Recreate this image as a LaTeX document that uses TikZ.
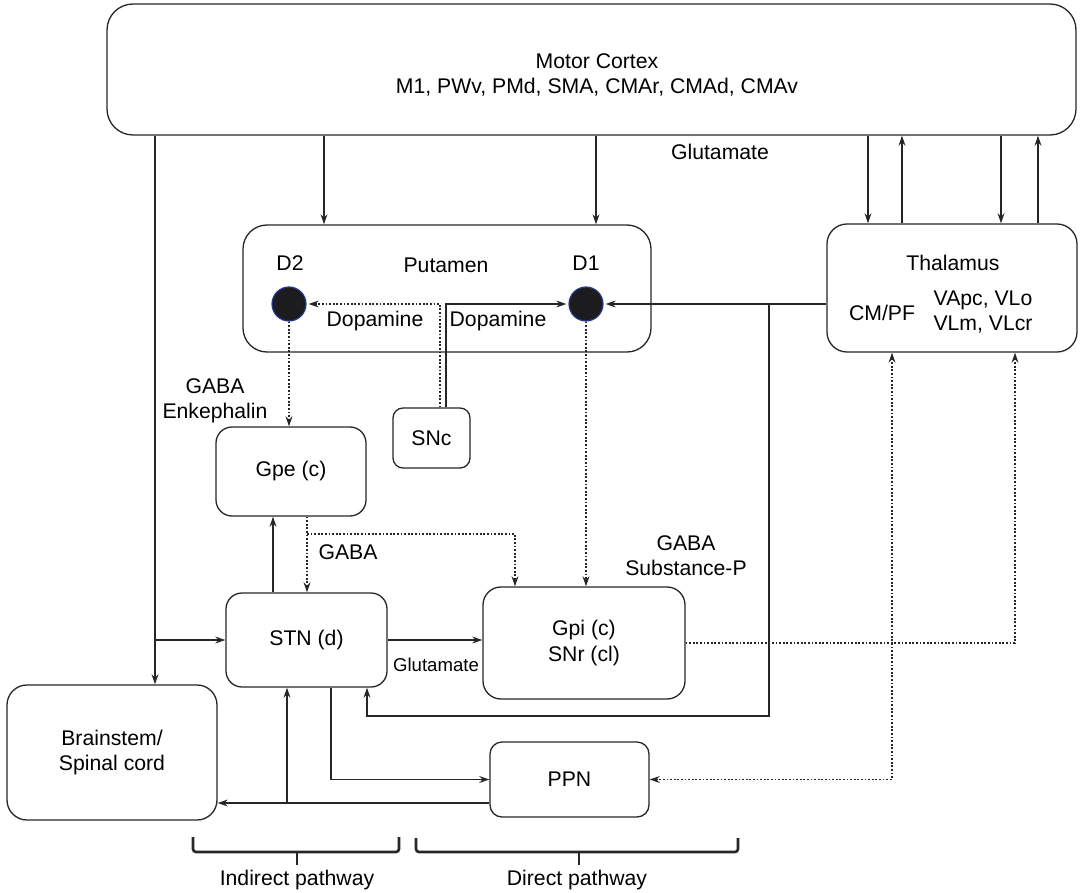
\documentclass[tikz,border=0pt]{standalone}
\usepackage{fontspec}
\setmainfont{Liberation Sans}
\usetikzlibrary{arrows.meta,fit}

\definecolor{recepfill}{rgb}{0.11,0.11,0.12}
\definecolor{recepdraw}{rgb}{0.16,0.22,0.55}

\tikzset{
  box/.style={draw, rounded corners=#1, inner sep=0pt},
  box/.default=8pt,
  lbl/.style={align=center, inner sep=0pt, font=\fontsize{10.6pt}{12.6pt}\selectfont},
  lblsmall/.style={align=center, inner sep=0pt, font=\fontsize{9.3pt}{11pt}\selectfont},
  dot/.style={dash pattern=on 0.9pt off 0.9pt},
  recep/.style={circle, fill=recepfill, draw=recepdraw, line width=0.6pt, minimum size=17pt, inner sep=0pt},
  brace/.style={line width=1.3pt, rounded corners=1.5pt}
}

\begin{document}
\begin{tikzpicture}[x=0.5pt, y=-0.5pt, line width=0.65pt, draw=black!85, >={Stealth[length=5pt,width=3.4pt]}]
\useasboundingbox (0,0) rectangle (1081,893);

% boxes
\node[box=13pt, fit={(107,4) (1076,135)}] (cortex) {};
\node[box=12pt, fit={(243,225) (651,352)}] (putamen) {};
\node[box=10pt, fit={(827,224) (1077,352)}] (thalamus) {};
\node[box=5pt, fit={(393,408) (470,468)}] (snc) {};
\node[box=8pt, fit={(216,427) (366,516)}] (gpe) {};
\node[box=8pt, fit={(226,593) (387,687)}] (stn) {};
\node[box=9pt, fit={(483,587) (685,699)}] (gpi) {};
\node[box=10pt, fit={(7,685) (217,820)}] (brain) {};
\node[box=6pt, fit={(490,742) (649,817)}] (ppn) {};
\node[recep] (d2) at (289,304) {};
\node[recep] (d1) at (586,304) {};

% texts
\node[lbl] (cortextext) at (597,75) {Motor Cortex\\M1, PWv, PMd, SMA, CMAr, CMAd, CMAv};
\node[lbl] (glutop) at (720,152) {Glutamate};
\node[lbl] (d2text) at (290,263) {D2};
\node[lbl] (puttext) at (446,265) {Putamen};
\node[lbl] (d1text) at (586,263) {D1};
\node[lbl] (dopleft) at (375,321) {Dopamine};
\node[lbl] (dopright) at (498,321) {Dopamine};
\node[lbl] (thaltext) at (953,263) {Thalamus};
\node[lbl] (cmpf) at (882,313) {CM/PF};
\node[lbl] (vltext) at (983,312) {VApc, VLo\\VLm, VLcr};
\node[lbl] (gabaenk) at (215,401) {GABA\\Enkephalin};
\node[lbl] (snctext) at (snc.center) {SNc};
\node[lbl] (gpetext) at (gpe.center) {Gpe (c)};
\node[lbl] (gabamid) at (348,552) {GABA};
\node[lbl] (gabasubp) at (686,556) {GABA\\Substance-P};
\node[lbl] (stntext) at (stn.center) {STN (d)};
\node[lblsmall] (glusmall) at (436,665) {Glutamate};
\node[lbl] (gpitext) at (gpi.center) {Gpi (c)\\SNr (cl)};
\node[lbl] (braintext) at (brain.center) {Brainstem/\\Spinal cord};
\node[lbl] (ppntext) at (ppn.center) {PPN};

% columns and rows of the wiring
\coordinate (xtrunk) at (155,0);
\coordinate (xput2) at (324,0);
\coordinate (xput1) at (596,0);
\coordinate (xdopa) at (440,0);
\coordinate (xdopb) at (446,0);
\coordinate (xloop) at (769,716);
\coordinate (xup) at (273,0);
\coordinate (xgaba) at (307,534);
\coordinate (xgpi) at (515,0);
\coordinate (xout) at (331,0);
\coordinate (xback) at (367,0);
\coordinate (xppn) at (892,0);
\coordinate (xthal) at (1015,0);
\coordinate (xbs) at (287,803);

% cortex outputs
\draw[->] (cortex.south -| xput2) -- (putamen.north -| xput2);
\draw[->] (cortex.south -| xput1) -- (putamen.north -| xput1);
\foreach \x in {868,1001} {
  \coordinate (k) at (\x,0);
  \draw[->] (cortex.south -| k) -- (thalamus.north -| k);
}
\foreach \x in {902,1038} {
  \coordinate (k) at (\x,0);
  \draw[->] (thalamus.north -| k) -- (cortex.south -| k);
}
\draw[->] (cortex.south -| xtrunk) -- (brain.north -| xtrunk);
\draw[->] (stn.west -| xtrunk) -- (stn.west);

% dopamine
\draw[dot,->,shorten >=1pt] (snc.north -| xdopa) |- (d2.east);
\draw[->,shorten >=1pt] (snc.north -| xdopb) |- (d1.west);

% thalamic input
\draw[->,shorten >=1pt] (thalamus.west |- d1) -- (d1.east);
\draw[->] (xloop |- d1) -- (xloop) -| (stn.south -| xback);

% indirect
\draw[dot,->] (d2.south) -- (gpe.north -| d2);
\draw[->] (stn.north -| xup) -- (gpe.south -| xup);
\draw[dot,->] (gpe.south -| xgaba) -- (stn.north -| xgaba);
\draw[dot,->] (xgaba) -| (gpi.north -| xgpi);
\draw[->] (stn.east) -- (stn.east -| gpi.west);

% direct
\draw[dot,->] (d1.south) -- (gpi.north -| d1);
\draw[dot,->] (gpi.east) -| (thalamus.south -| xthal);

% ppn and brainstem
\draw[->] (stn.south -| xout) |- (ppn.west);
\draw[dot,<->] (ppn.east) -| (thalamus.south -| xppn);
\draw[->] (ppn.west |- xbs) -- (brain.east |- xbs);
\draw[->] (xbs) -- (stn.south -| xbs);

% pathway brackets
\draw[brace] (193,837) -- (193,852) -- (399,852) -- (399,837);
\draw[brace] (297,852) -- (297,865);
\draw[brace] (416,838) -- (416,852) -- (738,852) -- (738,838);
\draw[brace] (579,852) -- (579,865);
\node[lbl] (indirect) at (297,880) {Indirect pathway};
\node[lbl] (direct) at (577,880) {Direct pathway};
\end{tikzpicture}
\end{document}
